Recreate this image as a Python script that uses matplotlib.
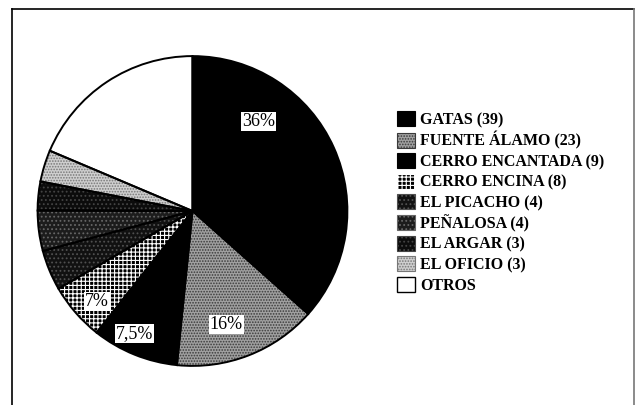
import matplotlib
matplotlib.use("Agg")
import matplotlib.pyplot as plt
from matplotlib.patches import Patch
from matplotlib.lines import Line2D

plt.rcParams['font.family'] = ['Liberation Serif', 'DejaVu Serif']
plt.rcParams['hatch.linewidth'] = 0.8

# Data
categories = ["GATAS (39)", "FUENTE ÁLAMO (23)", "CERRO ENCANTADA (9)", "CERRO ENCINA (8)",
              "EL PICACHO (4)", "PEÑALOSA (4)", "EL ARGAR (3)", "EL OFICIO (3)", "OTROS"]
shares = [36.5, 15.0, 9.0, 6.0, 4.2, 4.2, 3.0, 3.3, 18.6]   # slice sizes
slice_labels = ["36%", "16%", "7,5%", "7%"]

# styles: (face, hatch, hatch colour)
styles = [
    ("black", None, "black"),
    ("#a0a0a0", "......", "#3a3a3a"),
    ("black", None, "black"),
    ("black", "++++", "white"),
    ("#111111", "....", "#505050"),
    ("#1c1c1c", "....", "#666666"),
    ("#0c0c0c", "....", "#444444"),
    ("#cfcfcf", "......", "#777777"),
    ("white", None, "white"),
]
label_pos = [(0.427, 0.576), (0.218, -0.734), (-0.377, -0.791), (-0.617, -0.582)]

W, H = 638, 405
fig = plt.figure(figsize=(W / 100, H / 100), dpi=100)
cx, cy, r = 192.5, 211, 158
ax = fig.add_axes([(cx - r) / W, (H - cy - r) / H, 2 * r / W, 2 * r / H])

wedges, _ = ax.pie(shares, startangle=90, counterclock=False, radius=1,
                   wedgeprops=dict(linewidth=0))
for w, (fc, hatch, hc) in zip(wedges, styles):
    w.set_facecolor(fc)
    w.set_edgecolor(hc)
    if hatch:
        w.set_hatch(hatch)
# outlines
ax.pie(shares, startangle=90, counterclock=False, radius=1,
       wedgeprops=dict(facecolor='none', edgecolor='black', linewidth=1.4))
ax.set_xlim(-1.02, 1.02)
ax.set_ylim(-1.02, 1.02)
ax.set_aspect('equal')
ax.axis('off')

for txt, (x, y) in zip(slice_labels, label_pos):
    ax.text(x, y, txt, ha='center', va='center', fontsize=13, color='black',
            bbox=dict(facecolor='white', edgecolor='none', pad=0.6))

handles = []
for fc, hatch, hc in styles:
    handles.append(Patch(facecolor=fc, hatch=hatch, edgecolor=hc, linewidth=0.8))
handles[-1] = Patch(facecolor='white', edgecolor='black', linewidth=1.0)
leg = fig.legend(handles, categories, loc='upper left', bbox_to_anchor=(397 / W, 1 - 111 / H),
                 frameon=False, prop=dict(size=11.5, weight='bold'), handlelength=1.12, handleheight=1.08,
                 handletextpad=0.35, labelspacing=0.22, borderaxespad=0, borderpad=0)

# frame
fig.add_artist(Line2D([12 / W, 12 / W], [0, 1 - 9 / H], color='black', lw=1.2, transform=fig.transFigure))
fig.add_artist(Line2D([12 / W, 634 / W], [1 - 9 / H, 1 - 9 / H], color='black', lw=1.2, transform=fig.transFigure))
fig.add_artist(Line2D([634 / W, 634 / W], [0, 1 - 9 / H], color='#777777', lw=1.2, transform=fig.transFigure))

fig.savefig("out.png", dpi=100, facecolor='white')
